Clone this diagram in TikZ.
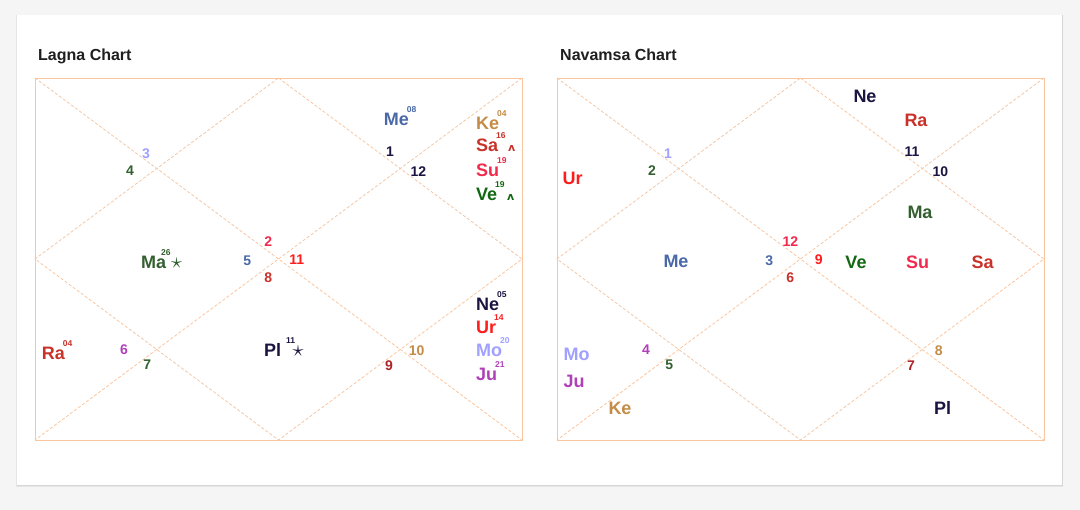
\documentclass[tikz,border=0pt]{standalone}
\usepackage{fontspec}
\usepackage{graphicx}
\setmainfont{Liberation Sans}
\newfontfamily\symfont{DejaVu Sans}

\definecolor{chartline}{RGB}{250,198,160}
\definecolor{lavender}{RGB}{160,160,255}
\definecolor{mgreen}{RGB}{52,96,48}
\definecolor{vgreen}{RGB}{18,104,18}
\definecolor{pblue}{RGB}{74,105,168}
\definecolor{pink}{RGB}{240,42,76}
\definecolor{bred}{RGB}{255,28,28}
\definecolor{rred}{RGB}{200,50,42}
\definecolor{dred}{RGB}{172,36,42}
\definecolor{ptan}{RGB}{196,140,72}
\definecolor{navy}{RGB}{28,20,64}
\definecolor{plum}{RGB}{176,64,184}

% degree in sign, retrograde mark, combust star
\newcommand{\pdeg}[1]{\kern-2pt\raisebox{13pt}{\fontsize{8.5}{8.5}\selectfont #1}}
\newcommand{\retro}{\kern2.5pt\raisebox{0.5pt}{\symfont\bfseries\fontsize{11}{11}\selectfont ʌ}}
\newcommand{\pstar}{\scalebox{1.3}{$\star$}}

\begin{document}
\begin{tikzpicture}[x=1pt, y=-1pt,
    frame/.style = {draw=chartline, line width=0.9pt},
    cut/.style = {draw=chartline, line width=0.8pt, dash pattern=on 3pt off 2pt},
    num/.style = {inner sep=0pt, font=\bfseries\fontsize{14}{14}\selectfont},
    planet/.style = {inner sep=0pt, font=\bfseries\fontsize{18}{18}\selectfont},
    title/.style = {inner sep=0pt, anchor=base west, text=black!88,
                    font=\bfseries\fontsize{16}{16}\selectfont}]
    \useasboundingbox (0,0) rectangle (1080,510);
    \fill[black!4] (0,0) rectangle (1080,510);
    \fill[black!10] (16,15.5) rectangle (1063,487.5);
    \fill[black!16] (16.5,15.5) rectangle (1062.5,486.5);
    \fill[white] (17,15) rectangle (1062,485);

    \node[title] (lagna-title) at (38,61) {Lagna Chart};
    \node[title] (navamsa-title) at (560,61) {Navamsa Chart};

    % chart frames
    \foreach \c/\x in {L/35,N/557}{
        \coordinate (\c-nw) at (\x,78);
        \coordinate (\c-ne) at (\x+487,78);
        \coordinate (\c-sw) at (\x,440);
        \coordinate (\c-se) at (\x+487,440);
        \coordinate (\c-n) at (\x+243.5,78);
        \coordinate (\c-s) at (\x+243.5,440);
        \coordinate (\c-w) at (\x,259);
        \coordinate (\c-e) at (\x+487,259);
        \draw[cut] (\c-nw) -- (\c-se) (\c-ne) -- (\c-sw);
        \draw[cut] (\c-n) -- (\c-e) -- (\c-s) -- (\c-w) -- cycle;
        \draw[frame] (\c-nw) rectangle (\c-se);
    }

    % sign numbers
    \foreach \x/\y/\col/\lg/\nv in {146/153.3/lavender/3/1, 130/171/mgreen/4/2,
        268.3/241.7/pink/2/12, 247.3/260.7/pblue/5/3, 390/151.7/navy/1/11,
        418.3/171.7/navy/12/10, 296.7/259.3/bred/11/9, 268.3/277.7/rred/8/6,
        124/350/plum/6/4, 147.3/365/mgreen/7/5, 389/365.7/dred/9/7,
        416.7/351/ptan/10/8}{
        \node[num, text=\col] (L-\lg) at (\x,\y) {\lg};
        \node[num, text=\col] (N-\nv) at (\x+522,\y) {\nv};
    }

    % lagna planets
    \node[planet, anchor=base west, text=pblue] (L-me) at (383.7,125.3) {Me\pdeg{08}};
    \node[planet, anchor=base west, text=ptan] (L-ke) at (476,129.3) {Ke\pdeg{04}};
    \node[planet, anchor=base west, text=rred] (L-sa) at (476,152) {Sa\pdeg{16}\retro};
    \node[planet, anchor=base west, text=pink] (L-su) at (476,176.7) {Su\pdeg{19}};
    \node[planet, anchor=base west, text=vgreen] (L-ve) at (476,200.7) {Ve\pdeg{19}\retro};
    \node[planet, anchor=base west, text=mgreen] (L-ma) at (141,268.3)
        {Ma\pdeg{\kern-3pt 26}\kern0.5pt\pstar};
    \node[planet, anchor=base west, text=rred] (L-ra) at (41.7,360) {Ra\pdeg{04}};
    \node[planet, anchor=base west, text=navy] (L-pl) at (264,356.7)
        {Pl\pdeg{\kern7pt 11}\kern-2.5pt\pstar};
    \node[planet, anchor=base west, text=navy] (L-ne) at (476,310.7) {Ne\pdeg{05}};
    \node[planet, anchor=base west, text=bred] (L-ur) at (476,333.3) {Ur\pdeg{14}};
    \node[planet, anchor=base west, text=lavender] (L-mo) at (476,356.7) {Mo\pdeg{20}};
    \node[planet, anchor=base west, text=plum] (L-ju) at (476,381) {Ju\pdeg{21}};

    % navamsa planets
    \node[planet, text=navy] (N-ne) at (865,96) {Ne};
    \node[planet, text=rred] (N-ra) at (916,120) {Ra};
    \node[planet, text=mgreen] (N-ma) at (920,212.7) {Ma};
    \node[planet, text=bred] (N-ur) at (572.7,178.3) {Ur};
    \node[planet, text=pblue] (N-me) at (676,261.7) {Me};
    \node[planet, text=vgreen] (N-ve) at (856,262.7) {Ve};
    \node[planet, text=pink] (N-su) at (917.7,262.7) {Su};
    \node[planet, text=rred] (N-sa) at (982.7,262.7) {Sa};
    \node[planet, text=lavender] (N-mo) at (576.7,354.3) {Mo};
    \node[planet, text=plum] (N-ju) at (574,381.7) {Ju};
    \node[planet, text=ptan] (N-ke) at (620,408.3) {Ke};
    \node[planet, text=navy] (N-pl) at (942.7,407.7) {Pl};
\end{tikzpicture}
\end{document}
